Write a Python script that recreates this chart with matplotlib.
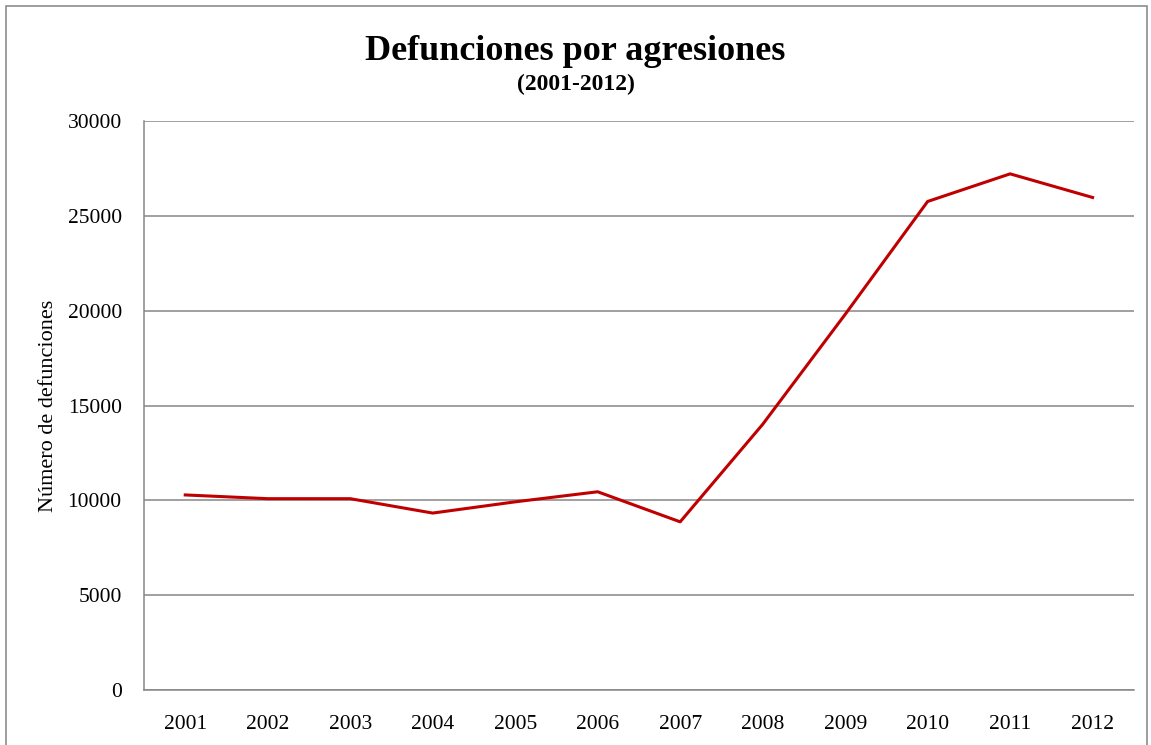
import matplotlib.pyplot as plt
from matplotlib.patches import Rectangle

# datos: defunciones por agresiones
years = ["2001", "2002", "2003", "2004", "2005", "2006",
         "2007", "2008", "2009", "2010", "2011", "2012"]
deaths = [10285, 10088, 10087, 9329, 9921, 10452,
          8867, 14006, 19803, 25757, 27213, 25967]
yticks = [0, 5000, 10000, 15000, 20000, 25000, 30000]

plt.rcParams['font.family'] = ['Liberation Serif', 'DejaVu Serif']

fig = plt.figure(figsize=(11.51, 7.45), dpi=100)
ax = fig.add_axes([0.1251, 0.0738, 0.860, 0.7638])

# marco del gráfico
fig.patches.append(Rectangle((6 / 1151, -0.05), 1141 / 1151, 1.05 - 6 / 745,
                             transform=fig.transFigure, fill=False,
                             edgecolor="#8c8c8c", linewidth=1.2))

x = range(len(years))
ax.plot(x, deaths, color="#C00000", linewidth=2.2)

ax.set_xlim(-0.5, len(years) - 0.5)
ax.set_ylim(0, 30000)
ax.set_yticks(yticks)
ax.set_xticks(list(x))
ax.set_xticklabels(years)
ax.yaxis.grid(True, color="#868686", linewidth=1.1)
ax.set_axisbelow(True)
ax.tick_params(length=0, labelsize=15.5, pad=18)
ax.tick_params(axis="y", pad=16)

for s in ["top", "right"]:
    ax.spines[s].set_visible(False)
for s in ["left", "bottom"]:
    ax.spines[s].set_color("#868686")
    ax.spines[s].set_linewidth(1.1)

ax.set_ylabel("Número de defunciones", fontsize=16, labelpad=7)

fig.text(0.5, 0.931, "Defunciones por agresiones", ha="center", va="center",
         fontsize=26, fontweight="bold")
fig.text(0.5, 0.886, "(2001-2012)", ha="center", va="center",
         fontsize=17, fontweight="bold")

plt.savefig("out.png", dpi=100)
